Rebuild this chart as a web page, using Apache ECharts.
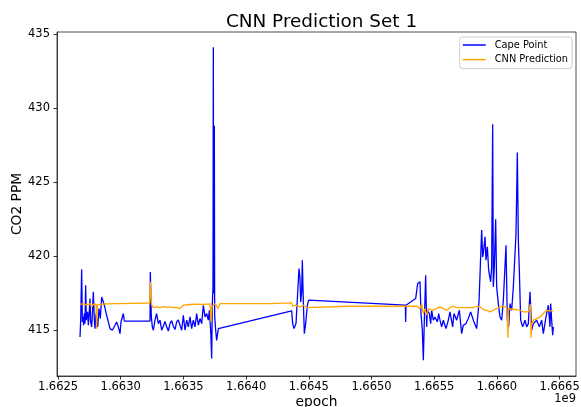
<!DOCTYPE html>
<html>
<head>
<meta charset="utf-8">
<script src="https://cdn.jsdelivr.net/npm/echarts@6/dist/echarts.min.js"></script>
<style>html,body{margin:0;padding:0;background:#fff;}#c{width:581px;height:407px;}</style>
</head>
<body>
<div id="c"></div>
<script>
// Cape Point measured CO2 (epoch seconds, ppm)
const capeX = [1662675440,1662680756,1662688731,1662694046,1662699364,1662704680,1662709997,1662715313,1662720630,1662725946,1662731262,1662736579,1662741895,1662747211,1662755186,1662760502,1662768477,1662773793,1662781768,1662789743,1662795059,1662803034,1662808350,1662816325,1662826958,1662837590,1662848223,1662861514,1662869489,1662888096,1662901387,1662914678,1662933285,1662954551,1662967842,1662981133,1662994424,1663002399,1663013031,1663021006,1663028981,
1663233664,1663236322,1663244296,1663252271,1663260246,1663273537,1663286828,1663300119,1663313410,1663326701,1663339992,1663353283,1663366574,1663379865,1663393156,1663406447,1663419738,1663433029,1663446320,1663459611,1663472902,1663486193,1663499484,1663512775,1663526066,1663539357,1663552648,1663565939,1663579230,1663592521,1663605812,1663619103,1663632394,1663645685,1663658976,1663672267,1663685558,1663698849,1663706824,1663717456,1663725431,1663730747,1663736064,1663738722,1663741380,1663746697,1663749355,1663757330,1663765304,1663778595,
1664363379,1664371354,1664381986,1664397936,1664411227,1664421859,1664429834,1664435150,1664443125,1664448441,1664456416,1664464391,1664475023,1664488314,1664498947,
1665269825,1665272483,1665275141,1665352229,1665368179,1665381470,1665386786,1665394761,1665405393,1665413368,1665421343,1665431975,1665439950,1665445251,1665461201,1665471833,1665479808,1665493099,1665506390,1665524997,1665535630,1665546263,1665559554,1665572845,1665594111,1665612718,1665626009,1665647275,1665657907,1665679173,1665700439,1665719046,1665732337,1665753603,1665772210,1665790817,1665812083,1665825374,1665838665,1665857272,1665878538,1665886513,1665891829,1665905120,1665913095,1665923727,1665934360,1665950309,1665958284,1665966259,1665971575,1665979550,1665990182,1665998157,1666011448,1666024739,1666038030,1666051321,1666072587,1666083219,1666093852,1666104485,1666117776,1666131067,1666144358,1666152333,1666157649,1666162965,1666170940,1666178915,1666189547,1666205497,1666224104,1666237395,1666250686,1666263977,1666277268,1666290559,1666317141,1666338407,1666357014,1666370305,1666391571,1666410178,1666423469,1666428785,1666436760,1666444735,1666450051];
const capeY = [414.55,415.60,419.12,415.56,415.90,415.34,416.13,415.45,418.04,415.68,416.01,416.24,415.34,415.90,417.14,415.56,415.23,416.01,417.59,415.68,415.11,416.13,416.24,415.23,416.46,415.79,417.25,416.91,416.69,416.01,415.56,415.11,415.00,415.34,415.56,415.23,414.77,415.56,415.45,416.13,415.61,
415.61,418.94,415.90,415.23,415.00,415.68,416.13,415.45,415.68,415.00,415.27,415.60,415.23,414.95,415.45,415.65,415.27,415.05,415.56,415.70,415.34,415.00,416.01,415.00,415.68,415.23,415.90,415.11,415.68,415.23,416.13,415.34,415.79,415.45,416.69,415.90,416.13,415.68,416.35,415.00,413.09,416.80,417.93,434.10,417.50,428.80,416.00,415.00,414.32,415.11,
416.31,415.45,415.11,415.45,415.56,419.17,418.49,416.91,417.59,419.73,416.91,414.77,415.45,416.69,417.03,
416.69,415.56,416.69,417.14,418.15,418.04,418.27,416.13,415.00,412.97,415.68,418.72,415.23,416.35,416.13,415.45,416.35,415.68,415.90,415.56,416.13,415.68,415.23,415.68,415.11,415.68,416.24,415.23,416.13,415.68,416.35,414.77,415.34,415.45,415.79,416.24,415.68,415.56,415.11,416.91,421.76,419.95,420.18,421.31,419.73,420.63,419.05,418.27,419.28,428.90,417.93,419.28,422.50,417.93,416.80,415.90,415.68,417.03,420.74,415.68,415.23,416.80,416.35,417.93,420.18,421.53,424.20,427.00,421.08,419.05,415.68,415.23,415.68,415.23,415.45,417.59,415.00,415.45,415.68,415.23,415.68,414.77,415.90,416.69,415.23,416.80,415.68,414.66,415.23];

// CNN prediction (epoch seconds, ppm)
const cnnX = [1662675442,1662702024,1662728606,1662755188,1662768479,1662781770,1662803036,1662808352,1662813668,1662834934,1662888098,1662967844,1663100754,1663231006,1663236322,1663246954,1663260246,1663286828,1663313410,1663339992,1663366574,1663393156,1663419738,1663446320,1663472902,1663486193,1663499484,1663552648,1663605812,1663658976,1663712140,1663720115,1663728090,1663738722,1663752013,1663765304,1663778595,1663791886,1664031104,1664190596,1664363379,1664371354,1664389961,1664403252,1664429834,1664456416,1664482998,1664498947,1664828564,1665094384,1665360204,1665386786,1665400077,1665413368,1665426659,1665439950,1665453241,1665479823,1665519696,1665546278,1665572860,1665599442,1665626009,1665652591,1665679173,1665705755,1665758919,1665812083,1665838665,1665865247,1665891829,1665918411,1665944993,1665971575,1665998157,1666024739,1666051321,1666077903,1666088536,1666093852,1666104485,1666131067,1666157649,1666184231,1666210813,1666250686,1666266635,1666271951,1666277268,1666290559,1666317141,1666343723,1666370305,1666396887,1666423469,1666450051];
const cnnY = [416.76,416.78,416.72,416.80,416.58,416.76,416.74,415.11,416.72,416.74,416.78,416.80,416.82,416.84,418.27,416.69,416.53,416.58,416.53,416.60,416.55,416.58,416.53,416.55,416.46,416.40,416.69,416.74,416.76,416.74,416.78,415.56,416.60,416.58,416.80,416.72,416.46,416.80,416.80,416.80,416.85,416.62,416.69,416.80,416.58,416.69,416.53,416.62,416.62,416.62,416.62,416.46,416.80,416.13,416.46,416.01,416.46,416.35,416.46,416.58,416.46,416.35,416.53,416.62,416.53,416.53,416.53,416.53,416.62,416.58,416.40,416.35,416.24,416.35,416.46,416.58,416.62,416.53,414.50,416.50,416.53,416.40,416.40,416.35,416.24,416.24,416.76,414.50,415.40,415.68,415.79,415.90,416.13,416.35,416.31,416.31];

const xTicks = [1662500000,1663000000,1663500000,1664000000,1664500000,1665000000,1665500000,1666000000,1666500000];
const yTicks = [415,420,425,430,435];

const FONT = 'DejaVu Sans';
const chart = echarts.init(document.getElementById('c'), null, {renderer:'canvas'});
const zip = (xs, ys) => xs.map((x, i) => [x, ys[i]]);

chart.setOption({
  animation: false,
  backgroundColor: '#fff',
  title: {
    text: 'CNN Prediction Set 1',
    left: 316.5, top: 8, textAlign: 'center',
    textStyle: {fontFamily: FONT, fontSize: 18.4, fontWeight: 'normal', color: '#000'}
  },
  legend: {
    orient: 'vertical',
    right: 9, top: 37,
    padding: [3, 4, 4, 3],
    icon: 'rect',
    itemWidth: 23, itemHeight: 1.5, itemGap: 4.6,
    backgroundColor: 'rgba(255,255,255,0.8)',
    borderColor: '#cccccc', borderWidth: 1, borderRadius: 3,
    textStyle: {fontFamily: FONT, fontSize: 9.8, color: '#000', padding: [0, 0, 0, 4]},
    data: ['Cape Point', 'CNN Prediction']
  },
  grid: {
    left: 57, top: 32, width: 519, height: 344,
    outerBoundsMode: 'none', containLabel: false,
    show: true, borderColor: '#222', borderWidth: 0.8, backgroundColor: 'transparent'
  },
  xAxis: {
    type: 'value',
    min: 1662492025, max: 1666630791,
    name: 'epoch', nameLocation: 'middle', nameGap: 19, nameMoveOverlap: false,
    nameTextStyle: {fontFamily: FONT, fontSize: 13.8, color: '#000'},
    axisLine: {show: true, lineStyle: {color: '#222', width: 0.8}},
    axisTick: {show: true, length: 3.5, lineStyle: {color: '#000', width: 0.8}, customValues: xTicks},
    axisLabel: {fontFamily: FONT, fontSize: 11.5, color: '#000', margin: 5, customValues: xTicks,
      formatter: v => (v / 1e9).toFixed(4)},
    splitLine: {show: false}
  },
  yAxis: {
    type: 'value',
    min: 411.912, max: 435.135,
    name: 'CO2 PPM', nameLocation: 'middle', nameGap: 33, nameRotate: 90, nameMoveOverlap: false,
    nameTextStyle: {fontFamily: FONT, fontSize: 13.8, color: '#000'},
    axisLine: {show: true, lineStyle: {color: '#222', width: 0.8}},
    axisTick: {show: true, length: 3.5, lineStyle: {color: '#000', width: 0.8}, customValues: yTicks},
    axisLabel: {fontFamily: FONT, fontSize: 11.5, color: '#000', margin: 7, customValues: yTicks},
    splitLine: {show: false}
  },
  graphic: [{
    type: 'text', right: 5, top: 393,
    style: {text: '1e9', fontFamily: FONT, fontSize: 11.5, fill: '#000'}
  }],
  series: [
    {name: 'Cape Point', type: 'line', data: zip(capeX, capeY), symbol: 'none', showSymbol: false,
      lineStyle: {color: '#0000ff', width: 1.3}, itemStyle: {color: '#0000ff'}},
    {name: 'CNN Prediction', type: 'line', data: zip(cnnX, cnnY), symbol: 'none', showSymbol: false,
      lineStyle: {color: '#ffa500', width: 1.3}, itemStyle: {color: '#ffa500'}}
  ]
});
</script>
</body>
</html>
